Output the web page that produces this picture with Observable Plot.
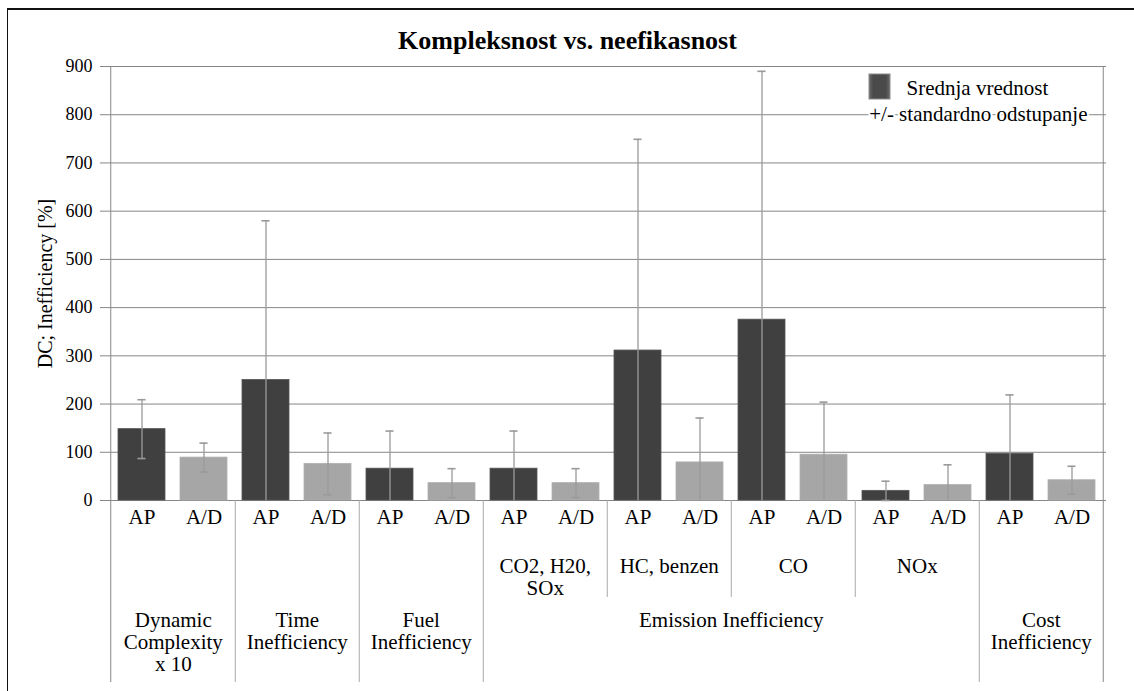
<!DOCTYPE html>
<html>
<head>
<meta charset="utf-8">
<script src="https://cdn.jsdelivr.net/npm/d3@7"></script>
<script src="https://cdn.jsdelivr.net/npm/@observablehq/plot@0.6"></script>
<style>
  body { margin: 0; background: #fff; }
  #wrap { position: relative; width: 1134px; height: 691px; overflow: hidden; }
  #border { position: absolute; left: 7px; top: 8px; right: -10px; bottom: -10px;
            border-left: 1.5px solid #111; border-top: 2px solid #111; pointer-events: none; }
  svg text { font-family: "Liberation Serif", "Times New Roman", serif; }
</style>
</head>
<body>
<div id="wrap"><div id="border"></div></div>
<script>
// ---- data ----
const title = "Kompleksnost vs. neefikasnost";
const yLabel = "DC; Inefficiency [%]";
const legendLabels = ["Srednja vrednost", "+/- standardno odstupanje"];
const categories = ["DC", "Time", "Fuel", "CO2", "HC", "CO", "NOx", "Cost"];
const subLabels = ["", "", "", "CO2, H20,\nSOx", "HC, benzen", "CO", "NOx", ""];
const series = ["AP", "A/D"];
const meanAP = [148, 250, 66, 66, 311, 375, 20, 97];
const sdAP   = [61, 330, 78, 78, 438, 515, 20, 122];
const meanAD = [89, 76, 36, 36, 79, 95, 32, 42];
const sdAD   = [30, 64, 30, 30, 92, 109, 42, 29];
const groupNames = ["Dynamic\nComplexity\nx 10", "Time\nInefficiency", "Fuel\nInefficiency", "Emission Inefficiency", "Cost\nInefficiency"];
const groupSizes = [1, 1, 1, 4, 1];
const yTicks = [0, 100, 200, 300, 400, 500, 600, 700, 800, 900];

// ---- derived tables ----
const keys = [];
const rows = [];
categories.forEach((c, i) => {
  series.forEach((s, j) => {
    const mean = j === 0 ? meanAP[i] : meanAD[i];
    const sd = j === 0 ? sdAP[i] : sdAD[i];
    const key = c + "|" + s;
    keys.push(key);
    rows.push({key, series: s, mean, sd, lo: Math.max(0, mean - sd), hi: mean + sd, low: mean - sd});
  });
});
const subRows = categories.map((c, i) => ({key: c + "|AP", text: subLabels[i]})).filter(d => d.text);
const groups = [];
const groupBounds = [];
const catBounds = [];
{
  let start = 0;
  groupNames.forEach((name, g) => {
    const n = groupSizes[g];
    groups.push({key: keys[start * 2 + n - 1], text: name});
    const lastCat = start + n - 1;
    if (g < groupNames.length - 1) groupBounds.push(categories[lastCat] + "|A/D");
    for (let k = start; k < lastCat; k++) catBounds.push(categories[k] + "|A/D");
    start += n;
  });
}

// ---- layout ----
const W = 1134, H = 691, mt = 66, mb = 191, ml = 106, mr = 28;
const step = (W - ml - mr) / keys.length;
const bw = step * 0.75;
const capInset = (bw - 8) / 2;
const below = 182;
const subBelow = 97;
const fontFam = "Liberation Serif";
const errColor = "#9a9a9a";
const lineColor = "#868686";

const swatch = (index, scales, values, dims) => {
  const g = d3.create("svg:g");
  const x0 = dims.width - dims.marginRight - 237;
  const y0 = dims.marginTop + 8;
  const defs = g.append("defs");
  const grad = defs.append("linearGradient").attr("id", "swg").attr("x1", 0).attr("x2", 1).attr("y1", 0).attr("y2", 0);
  grad.append("stop").attr("offset", "0%").attr("stop-color", "#6a6a6a");
  grad.append("stop").attr("offset", "20%").attr("stop-color", "#4a4a4a");
  grad.append("stop").attr("offset", "80%").attr("stop-color", "#4a4a4a");
  grad.append("stop").attr("offset", "100%").attr("stop-color", "#6a6a6a");
  g.append("rect").attr("x", x0).attr("y", y0).attr("width", 21).attr("height", 25)
    .attr("fill", "url(#swg)").attr("stroke", "#8a8a8a").attr("stroke-width", 1);
  return g.node();
};

const plot = Plot.plot({
  width: W, height: H,
  marginTop: mt, marginBottom: mb, marginLeft: ml, marginRight: mr,
  style: {fontFamily: fontFam, fontSize: "18px", color: "black", background: "white", overflow: "visible"},
  x: {type: "band", domain: keys, paddingInner: 0.25, paddingOuter: 0.125, axis: null},
  y: {domain: [0, 900], axis: null},
  color: {domain: series, range: ["#404040", "#a6a6a6"]},
  marks: [
    Plot.gridY(yTicks, {stroke: lineColor, strokeOpacity: 1}),
    Plot.axisY(yTicks, {tickSize: 6, tickPadding: 8, stroke: lineColor, fill: "black", fontSize: 18, fontFamily: fontFam, label: null}),
    Plot.ruleX([keys[0]], {x: d => d, dx: -step / 2, insetBottom: -below, stroke: lineColor}),
    Plot.ruleX([keys[keys.length - 1]], {x: d => d, dx: step / 2, insetBottom: -below, stroke: lineColor}),
    Plot.ruleX(groupBounds, {x: d => d, dx: step / 2, insetTop: H - mt - mb, insetBottom: -below, stroke: "#a8a8a8"}),
    Plot.ruleX(catBounds, {x: d => d, dx: step / 2, insetTop: H - mt - mb, insetBottom: -subBelow, stroke: "#a8a8a8"}),
    Plot.barY(rows, {x: "key", y: "mean", fill: "series", stroke: d => d.series === "AP" ? "#555" : "#b0b0b0", strokeWidth: 0.8}),
    Plot.ruleX(rows, {x: "key", y1: "lo", y2: "hi", stroke: errColor, strokeWidth: 1.3}),
    Plot.tickY(rows, {x: "key", y: "hi", insetLeft: capInset, insetRight: capInset, stroke: errColor, strokeWidth: 1.6}),
    Plot.tickY(rows.filter(d => d.low >= 0), {x: "key", y: "lo", insetLeft: capInset, insetRight: capInset, stroke: errColor, strokeWidth: 1.6}),
    Plot.text(rows, {x: "key", text: "series", frameAnchor: "bottom", lineAnchor: "top", dy: 9, fontSize: 21, fontFamily: fontFam}),
    Plot.text(subRows, {x: "key", text: "text", frameAnchor: "bottom", lineAnchor: "top", dx: step / 2, dy: 57, fontSize: 21, lineHeight: 1.05, fontFamily: fontFam}),
    Plot.text(groups, {x: "key", text: "text", frameAnchor: "bottom", lineAnchor: "top", dx: step / 2, dy: 111, fontSize: 21, lineHeight: 1.05, fontFamily: fontFam}),
    Plot.text([title], {frameAnchor: "top", textAnchor: "middle", dx: W / 2 - (ml + (W - ml - mr) / 2), dy: -26, lineAnchor: "middle", fontSize: 26, fontWeight: "bold", fontFamily: fontFam}),
    Plot.text([yLabel], {frameAnchor: "left", textAnchor: "middle", rotate: -90, dx: -61, fontSize: 20, fontFamily: fontFam}),
    swatch,
    Plot.text([legendLabels[0]], {frameAnchor: "top-right", textAnchor: "start", dx: -200, dy: 22, lineAnchor: "middle", fontSize: 21, fontFamily: fontFam}),
    Plot.text([legendLabels[1]], {frameAnchor: "top-right", textAnchor: "end", dx: -19, dy: 48, lineAnchor: "middle", fontSize: 21, fontFamily: fontFam, fill: "black", stroke: "white", strokeWidth: 4})
  ]
});
document.getElementById("wrap").prepend(plot);
</script>
</body>
</html>
